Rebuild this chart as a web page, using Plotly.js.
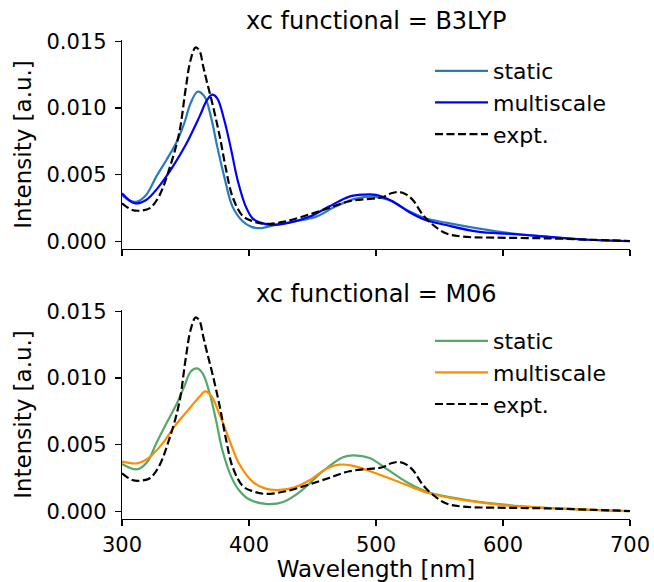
<!DOCTYPE html>
<html>
<head>
<meta charset="utf-8">
<script src="https://cdn.plot.ly/plotly-3.0.1.min.js"></script>
<style>html,body{margin:0;padding:0;background:#fff;}#chart{width:654px;height:582px;}</style>
</head>
<body>
<div id="chart"></div>
<script>
// Experimental spectrum (same in both panels)
const exptX = [300, 308, 315, 322, 329, 337, 345, 350, 354, 358, 361, 364, 367, 371, 377, 382, 387, 395, 403, 413, 429, 447, 463, 479, 497, 505, 512, 518, 524, 529, 537, 545, 555, 568, 594, 634, 673, 700];
const exptY = [0.00285, 0.00235, 0.0023, 0.00248, 0.00335, 0.00535, 0.0081, 0.01135, 0.0136, 0.01455, 0.0143, 0.0131, 0.0119, 0.0104, 0.00785, 0.00535, 0.00335, 0.0019, 0.0015, 0.0013, 0.0015, 0.002, 0.0025, 0.003, 0.0032, 0.0033, 0.0036, 0.0037, 0.0035, 0.0031, 0.00197, 0.00122, 0.0006, 0.00035, 0.00027, 0.00022, 0.0001, 0.00002];

// B3LYP
const b3lypStaticX = [300, 306, 312, 319, 327, 335, 343, 349, 354, 359.5, 365, 370, 375, 380.5, 387, 395, 402, 409, 421, 437, 453, 468, 484, 497, 510, 524, 539, 555, 580, 606, 634, 660, 700];
const b3lypStaticY = [0.00347, 0.00305, 0.00297, 0.00347, 0.00485, 0.0061, 0.00745, 0.00885, 0.01035, 0.01122, 0.01085, 0.00935, 0.0071, 0.00485, 0.0026, 0.0015, 0.00108, 0.00098, 0.00123, 0.0015, 0.00185, 0.0026, 0.0032, 0.00335, 0.0031, 0.00235, 0.00172, 0.0014, 0.00097, 0.0006, 0.00035, 0.00015, 0.00002];
const b3lypMultiX = [300, 310, 319, 329, 340, 350, 361, 367, 371, 375, 380.5, 386, 391, 397.5, 403, 409, 418, 432, 448, 463, 479, 490, 500, 513, 526, 539, 555, 580, 606, 634, 660, 700];
const b3lypMultiY = [0.0036, 0.00285, 0.0031, 0.0041, 0.0056, 0.0072, 0.00935, 0.0106, 0.011, 0.01072, 0.0091, 0.00685, 0.0046, 0.0026, 0.0017, 0.0014, 0.00123, 0.0014, 0.00185, 0.0026, 0.00335, 0.0035, 0.00348, 0.003, 0.0022, 0.0016, 0.00122, 0.00072, 0.00055, 0.00035, 0.00015, 0.0];

// M06
const m06StaticX = [300, 312, 320, 327, 335, 342.5, 349, 354, 359, 363.5, 369, 374, 379, 386, 392, 400, 413, 427, 442, 458, 474, 482, 495, 508, 524, 542, 568, 606, 646, 700];
const m06StaticY = [0.00355, 0.00315, 0.00372, 0.0051, 0.0066, 0.00795, 0.00935, 0.01047, 0.01072, 0.01035, 0.00885, 0.00685, 0.0046, 0.0026, 0.0016, 0.0009, 0.00055, 0.0007, 0.0016, 0.003, 0.00405, 0.0042, 0.004, 0.0032, 0.0022, 0.0014, 0.0009, 0.00045, 0.0002, 0.0];
const m06MultiX = [300, 312, 321, 332, 342, 353, 361, 365.5, 370, 376.5, 384.5, 392, 403, 413, 424, 436, 448, 461, 471, 482, 500, 524, 542, 568, 606, 646, 700];
const m06MultiY = [0.00372, 0.0036, 0.004, 0.0051, 0.00645, 0.0077, 0.0086, 0.009, 0.0087, 0.00735, 0.00535, 0.0036, 0.0022, 0.0017, 0.0016, 0.0018, 0.00235, 0.0032, 0.0035, 0.0034, 0.00285, 0.00197, 0.00135, 0.00085, 0.0004, 0.0002, 0.0];

const seriesNames = ['static', 'multiscale', 'expt.'];
const panelTitles = ['xc functional = B3LYP', 'xc functional = M06'];
const xTicks = [300, 400, 500, 600, 700];
const yTicks = [0, 0.005, 0.010, 0.015];
const yTickText = ['0.000', '0.005', '0.010', '0.015'];

const FONT = 'DejaVu Sans, sans-serif';
const lw = 2.2;
const dashStyle = '8px,3.5px';

function line(x, y, name, color, xa, ya, leg, dash) {
  return {
    x: x, y: y, name: name, type: 'scatter', mode: 'lines',
    xaxis: xa, yaxis: ya, legend: leg,
    line: {color: color, width: lw, dash: dash || 'solid', shape: 'spline', smoothing: 1.0},
    hoverinfo: 'skip'
  };
}

const data = [
  line(b3lypStaticX, b3lypStaticY, seriesNames[0], '#2b7bba', 'x', 'y', 'legend'),
  line(b3lypMultiX, b3lypMultiY, seriesNames[1], '#0000ff', 'x', 'y', 'legend'),
  line(exptX, exptY, seriesNames[2], '#000000', 'x', 'y', 'legend', dashStyle),
  line(m06StaticX, m06StaticY, seriesNames[0], '#55a868', 'x2', 'y2', 'legend2'),
  line(m06MultiX, m06MultiY, seriesNames[1], '#ff8c00', 'x2', 'y2', 'legend2'),
  line(exptX, exptY, seriesNames[2], '#000000', 'x2', 'y2', 'legend2', dashStyle)
];

const yRange = [-0.00058, 0.0151];
const xCommon = {
  range: [300, 700], tickvals: xTicks, ticks: 'outside', ticklen: 6, tickwidth: 1.3,
  tickcolor: '#000', showline: true, linecolor: '#000', linewidth: 1.3,
  showgrid: false, zeroline: false, tickfont: {family: FONT, size: 21, color: '#000'}
};
const yCommon = {
  range: yRange, tickvals: yTicks, ticktext: yTickText, ticks: 'outside', ticklen: 6, tickwidth: 1.3,
  tickcolor: '#000', showline: true, linecolor: '#000', linewidth: 1.3,
  showgrid: false, zeroline: false, tickfont: {family: FONT, size: 21, color: '#000'},
  ticklabelstandoff: 4,
  title: {text: 'Intensity [a.u.]', font: {family: FONT, size: 23, color: '#000'}, standoff: 8}
};

const legendCommon = {
  font: {family: FONT, size: 22, color: '#000'}, bgcolor: 'rgba(0,0,0,0)',
  xanchor: 'left', yanchor: 'top', itemwidth: 53
};

const layout = {
  width: 654, height: 582,
  margin: {l: 122, r: 24, t: 40, b: 63},
  paper_bgcolor: '#fff', plot_bgcolor: '#fff',
  font: {family: FONT, color: '#000'},
  showlegend: true,
  xaxis: Object.assign({}, xCommon, {anchor: 'y', showticklabels: false, matches: 'x2'}),
  yaxis: Object.assign({}, yCommon, {domain: [0.5637, 1], anchor: 'x'}),
  xaxis2: Object.assign({}, xCommon, {anchor: 'y2',
    title: {text: 'Wavelength [nm]', font: {family: FONT, size: 23, color: '#000'}, standoff: 4}}),
  yaxis2: Object.assign({}, yCommon, {domain: [0, 0.4363], anchor: 'x2'}),
  legend: Object.assign({}, legendCommon, {x: 0.6063, y: 0.979}),
  legend2: Object.assign({}, legendCommon, {x: 0.6063, y: 0.4154}),
  annotations: [
    {text: panelTitles[0], xref: 'paper', yref: 'paper', x: 0.5, y: 1, yshift: 3,
     xanchor: 'center', yanchor: 'bottom', showarrow: false, font: {family: FONT, size: 24, color: '#000'}},
    {text: panelTitles[1], xref: 'paper', yref: 'paper', x: 0.5, y: 0.4363, yshift: 0,
     xanchor: 'center', yanchor: 'bottom', showarrow: false, font: {family: FONT, size: 24, color: '#000'}}
  ]
};

Plotly.newPlot('chart', data, layout, {displayModeBar: false, staticPlot: true});
</script>
</body>
</html>
